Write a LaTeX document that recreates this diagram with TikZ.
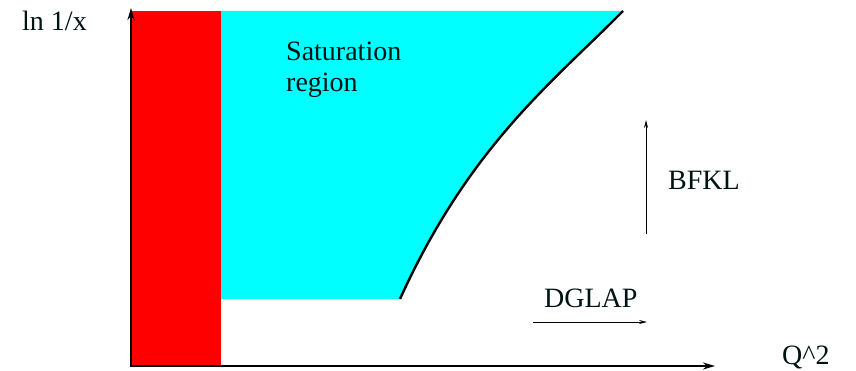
\documentclass[tikz,border=0pt]{standalone}
\usepackage{fontspec}
\setmainfont{Liberation Serif}
\usetikzlibrary{arrows.meta}
\definecolor{satcyan}{RGB}{0,255,255}
\definecolor{satred}{RGB}{255,0,0}
\begin{document}
\begin{tikzpicture}[x=1pt,y=-1pt,
  lbl/.style={inner sep=0pt,font=\fontsize{28}{32}\selectfont,text=black!85!teal},
  axis/.style={line width=2.6pt,-{Stealth[length=12pt,width=7pt]}},
  thinarrow/.style={line width=0.9pt,-{Stealth[length=8pt,width=4pt]}}]
\useasboundingbox (0,0) rectangle (856,371);
% regions
\coordinate (c0) at (400,299);
\coordinate (c3) at (623,11);
\fill[satcyan] (221,11) -- (c3) .. controls (553,82) and (470,145) .. (c0) -- (221,299) -- cycle;
\fill[satred] (131,11) rectangle (221,366);
\draw[line width=2.4pt] (c0) .. controls (470,145) and (553,82) .. (c3);
% axes
\coordinate (o) at (131,366);
\coordinate (ytop) at (131,8);
\coordinate (xend) at (715,366);
\draw[axis] (131,367.3) -- (ytop);
\draw[axis] (129.7,366) -- (xend);
% labels
\node[lbl,anchor=base west] (ylab) at (22,31) {ln 1/x};
\node[lbl,anchor=base west] (xlab) at (782,364) {Q\^{}2};
\node[lbl,anchor=base west] (sat) at (286,61) {Saturation};
\node[lbl,anchor=base west] (reg) at (286,92) {region};
\node[lbl,anchor=base west] (bfkl) at (668,190) {BFKL};
\node[lbl,anchor=base west] (dglap) at (544,307) {DGLAP};
% arrows
\coordinate (b1) at (646,234);
\coordinate (b2) at (646,120);
\coordinate (d1) at (533,322);
\coordinate (d2) at (647,322);
\draw[thinarrow] (b1) -- (b2);
\draw[thinarrow] (d1) -- (d2);
\end{tikzpicture}
\end{document}
